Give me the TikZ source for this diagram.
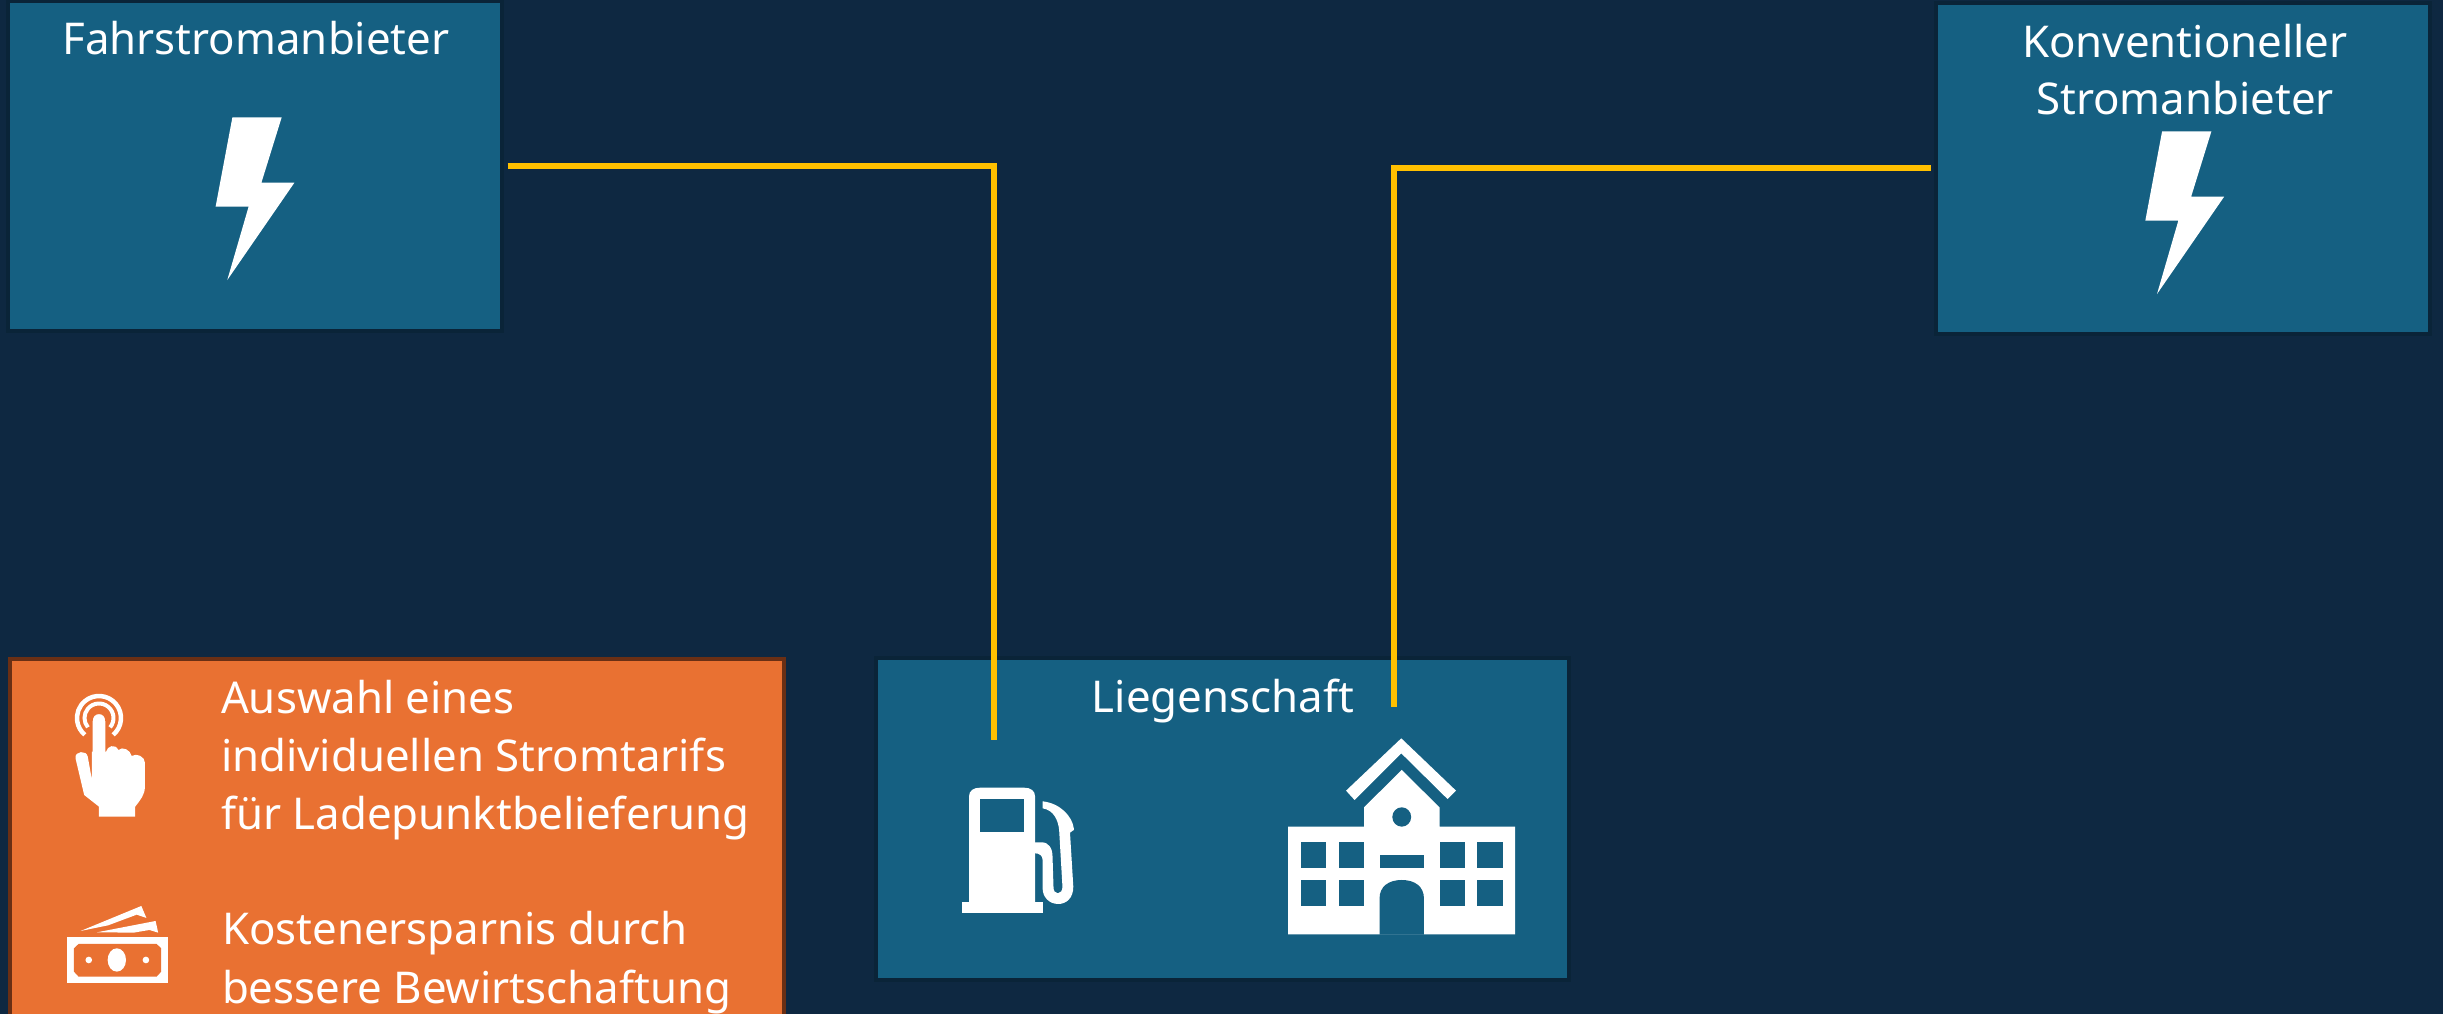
\documentclass[tikz,border=0pt]{standalone}
\usepackage{fontspec}
\setmainfont{Noto Sans}
\definecolor{bgc}{HTML}{0E2841}
\definecolor{boxc}{HTML}{156082}
\definecolor{boxb}{HTML}{0A2438}
\definecolor{orc}{HTML}{E97132}
\definecolor{orb}{HTML}{6A2F14}
\definecolor{linec}{HTML}{FFC000}
\tikzset{
  panel/.style={draw=boxb,line width=4pt,fill=boxc,inner sep=0pt,outer sep=0pt,anchor=north west},
  orpanel/.style={draw=orb,line width=4pt,fill=orc,inner sep=0pt,outer sep=0pt,anchor=north west},
  lbl/.style={text=white,inner sep=0pt,outer sep=0pt,font=\fontsize{43.8}{44}\selectfont},
  clbl/.style={lbl,anchor=base},
  llbl/.style={lbl,anchor=base west},
  wire/.style={draw=linec,line width=6.3pt},
  icon/.style={fill=white,draw=none},
  zoomA/.style={shift={(0,640)},xscale=0.5102,yscale=0.3333},
  zoomB/.style={shift={(860,640)},xscale=0.4719,yscale=0.3333}
}
\begin{document}
\begin{tikzpicture}[x=1pt,y=-1pt]
\useasboundingbox (0,0) rectangle (2443,1014);
\fill[bgc] (0,0) rectangle (2443,1014);
% panels
\node[panel,minimum width=494pt,minimum height=330pt] (fahr) at (8,1) {};
\node[panel,minimum width=494pt,minimum height=331pt] (konv) at (1936,3) {};
\node[panel,minimum width=693pt,minimum height=322pt] (lieg) at (875.5,658) {};
\begin{scope}
\clip (0,0) rectangle (2443,1014);
\node[orpanel,minimum width=774pt,minimum height=400pt] (vort) at (10,659) {};
\end{scope}
% labels
\node[clbl] (tfahr) at (256,55) {Fahrstromanbieter};
\node[clbl] (tkonv) at (2185,58) {Konventioneller};
\node[clbl] (tstrom) at (2185,115) {Stromanbieter};
\node[clbl] (tlieg) at (1223,712) {Liegenschaft};
\node[llbl] (v1) at (221,713) {Auswahl eines};
\node[llbl] (v2) at (221,771) {individuellen Stromtarifs};
\node[llbl] (v3) at (221,829) {für Ladepunktbelieferung};
\node[llbl] (v4) at (222,944) {Kostenersparnis durch};
\node[llbl] (v5) at (222,1003) {bessere Bewirtschaftung};
% connectors
\coordinate (w1s) at (507.6,166);
\coordinate (w1e) at (994,740);
\coordinate (w2s) at (1931,168);
\coordinate (w2e) at (1394,707);
\draw[wire] (w1s) -| (w1e);
\draw[wire] (w2s) -| (w2e);
% bolts
\fill[icon] (232.4,117.3)--(281.7,117.3)--(261.4,182.7)--(294.4,182.7)--(227.3,280)--(248.6,206.7)--(215.6,206.7)--cycle;
\fill[icon,shift={(1929.7,14)}] (232.4,117.3)--(281.7,117.3)--(261.4,182.7)--(294.4,182.7)--(227.3,280)--(248.6,206.7)--(215.6,206.7)--cycle;
% pump
\begin{scope}[zoomB]
\fill[icon] (216,787) rectangle (387,820);
\fill[icon] (231,787) -- (231,470) .. controls (231,452) and (240,443) .. (255,443) -- (347,443) .. controls (362,443) and (371,452) .. (371,470) -- (371,787) -- cycle;
\fill[boxc] (254,478) rectangle (348,577);
\fill[icon] (371,607) -- (385,607) .. controls (400,607) and (408,625) .. (408,650) -- (410,740) .. controls (410,752) and (413,760) .. (419,760) .. controls (425,760) and (429,752) .. (429,740) -- (422,570) .. controls (420,540) and (410,510) .. (387,505) -- (387,484) .. controls (425,490) and (450,530) .. (453,565) -- (453,570) -- (445,578) -- (452,740) .. controls (452,775) and (437,792) .. (420,792) .. controls (400,792) and (387,770) .. (387,745) -- (387,660) .. controls (387,647) and (380,640) .. (371,640) -- cycle;
% building
\fill[icon] (1147,295)--(1263,452)--(1245,477)--(1147,340)--(1048,480)--(1030,452)--cycle;
\fill[icon] (907,560)--(1068,560)--(1068,502)--(1148,390)--(1228,502)--(1228,560)--(1388,560)--(1388,883)--(907,883)--cycle;
\fill[boxc] (1148,531) ellipse [x radius=20,y radius=29];
\foreach \xa/\xb in {934/987,1014/1068,1228/1282,1308/1362}{
  \fill[boxc] (\xa,607) rectangle (\xb,683);
  \fill[boxc] (\xa,720) rectangle (\xb,797);
}
\fill[boxc] (1101,645) rectangle (1195,683);
\fill[boxc] (1101,884) -- (1101,775) .. controls (1101,740) and (1120,720) .. (1148,720) .. controls (1176,720) and (1195,740) .. (1195,775) -- (1195,884) -- cycle;
\end{scope}
% hand
\draw[white,line width=4.5pt] (99,718) ++(50:22) arc[start angle=50,end angle=-230,radius=22];
\draw[white,line width=4pt] (99,718) ++(40:14.5) arc[start angle=40,end angle=-220,radius=14.5];
\begin{scope}[zoomA]
\fill[icon,draw=orc,line width=1.5pt] (180,245) .. controls (180,228) and (186,220) .. (194,220) .. controls (202,220) and (208,228) .. (208,245) -- (208,420) -- (180,420) -- cycle;
\fill[icon] (208,335) .. controls (210,318) and (226,310) .. (232,330) .. controls (240,318) and (256,330) .. (258,348) .. controls (268,338) and (284,350) .. (284,368) -- (284,440) .. controls (284,465) and (275,480) .. (265,500) -- (265,530) -- (194,530) -- (194,500) -- (165,465) -- (148,355) .. controls (146,332) and (170,330) .. (172,350) -- (180,418) -- (180,335) -- cycle;
% money
\fill[icon] (131,892) rectangle (329,1029);
\fill[orc] (154,912)--(307,912)--(316,925)--(316,995)--(307,1010)--(154,1010)--(145,995)--(145,925)--cycle;
\fill[icon] (229,960) ellipse [x radius=18,y radius=35];
\fill[icon] (174,960) ellipse [x radius=6.5,y radius=10];
\fill[icon] (286,960) ellipse [x radius=6.5,y radius=10];
\fill[icon] (158,873)--(277,798)--(287,834)--(268,824)--(212,856)--cycle;
\fill[icon] (190,877)--(305,843)--(310,878)--(293,870)--(262,878)--cycle;
\end{scope}
\end{tikzpicture}
\end{document}
